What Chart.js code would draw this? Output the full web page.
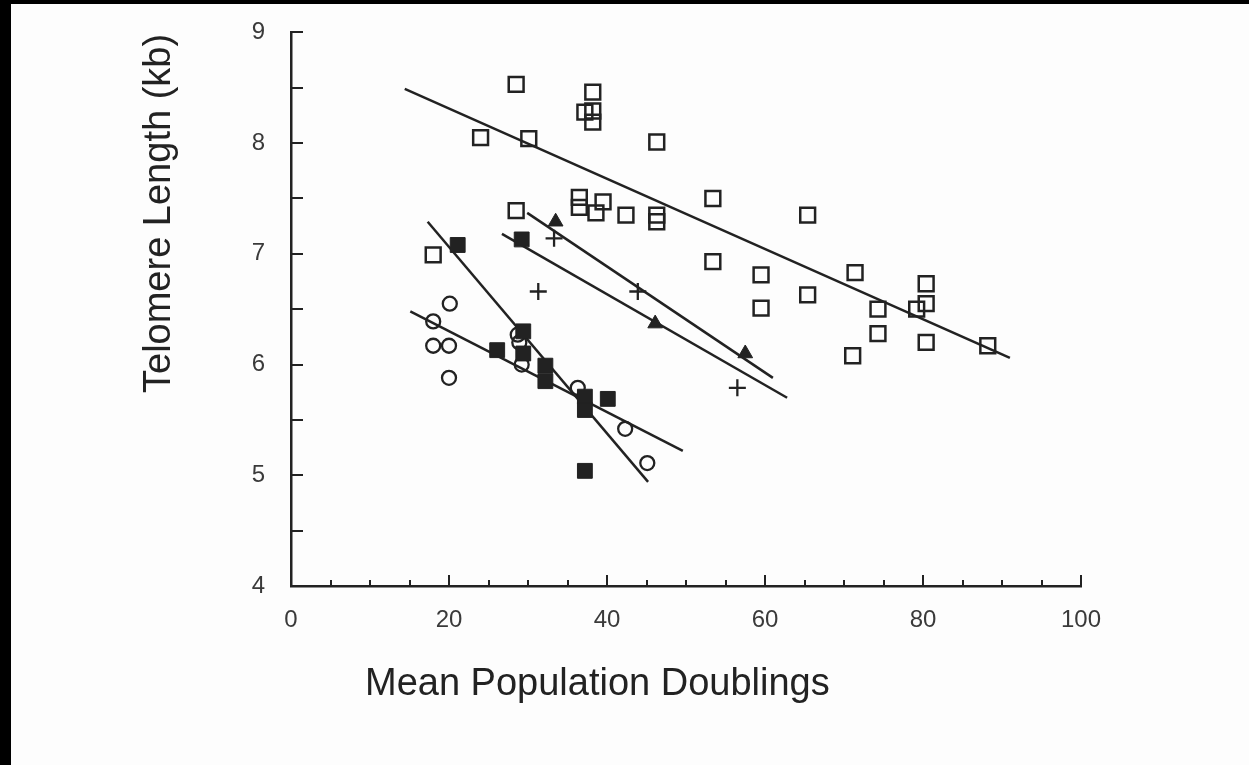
<!DOCTYPE html>
<html>
<head>
<meta charset="utf-8">
<script src="https://cdn.jsdelivr.net/npm/chart.js@4.4.1/dist/chart.umd.min.js"></script>
<style>
  html, body { margin: 0; padding: 0; background: #000; overflow: hidden; }
  .sheet { position: absolute; left: 11px; top: 4px; right: 0; bottom: 0; background: #fdfdfd; }
  .wrap { position: absolute; left: 0; top: 0; width: 1249px; height: 765px; }
</style>
</head>
<body>
<div class="sheet"></div>
<div class="wrap"><canvas id="telomereChart" width="1249" height="765"></canvas></div>
<script>
const ink = '#222222';
const tickInk = '#3a3a3a';

// open squares
const openSqX = [24.0, 28.5, 30.1, 28.5, 18.0, 38.2, 37.2, 38.2, 38.2, 46.3, 36.5, 36.5, 38.6, 39.5, 42.4, 46.3, 46.3,
                 53.4, 65.4, 53.4, 59.5, 59.5, 65.4, 71.4, 74.3, 74.3, 71.1, 79.2, 80.4, 80.4, 80.4, 88.2];
const openSqY = [8.05, 8.53, 8.04, 7.39, 6.99, 8.46, 8.28, 8.29, 8.19, 8.01, 7.51, 7.42, 7.37, 7.47, 7.35, 7.35, 7.29,
                 7.50, 7.35, 6.93, 6.81, 6.51, 6.63, 6.83, 6.50, 6.28, 6.08, 6.50, 6.73, 6.55, 6.20, 6.17];
// filled squares
const filledSqX = [21.1, 29.2, 26.1, 29.4, 29.4, 32.2, 32.2, 37.2, 37.2, 40.1, 37.2];
const filledSqY = [7.08, 7.13, 6.13, 6.30, 6.10, 5.99, 5.85, 5.71, 5.59, 5.69, 5.04];
// open circles
const circleX = [20.1, 18.0, 18.0, 20.0, 20.0, 28.7, 28.9, 29.2, 36.3, 42.3, 45.1];
const circleY = [6.55, 6.39, 6.17, 6.17, 5.88, 6.27, 6.20, 6.00, 5.79, 5.42, 5.11];
// crosses and filled triangles
const plusX = [33.3, 31.3, 43.9, 56.5];
const plusY = [7.14, 6.66, 6.66, 5.79];
const triX = [33.5, 46.1, 57.5];
const triY = [7.29, 6.37, 6.10];

// regression lines (start, end)
const fitOpenSqX = [14.4, 91.0], fitOpenSqY = [8.49, 6.06];
const fitPlusX = [29.9, 61.0], fitPlusY = [7.37, 5.88];
const fitTriX = [26.7, 62.8], fitTriY = [7.18, 5.70];
const fitFilledSqX = [17.3, 45.2], fitFilledSqY = [7.29, 4.94];
const fitCircleX = [15.1, 49.6], fitCircleY = [6.48, 5.22];

const xTickLabels = [0, 20, 40, 60, 80, 100];
const yTickLabels = [4, 5, 6, 7, 8, 9];
const xTitle = 'Mean Population Doublings';
const yTitle = 'Telomere Length (kb)';

const pts = (xs, ys) => xs.map((x, i) => ({ x: x, y: ys[i] }));

function fitLine(xs, ys) {
    return { type: 'line', data: pts(xs, ys), borderColor: ink, borderWidth: 2.5, pointRadius: 0, fill: false, tension: 0 };
}

// tick marks point into the plot, so draw them ourselves from the scales
const innerTicks = {
    id: 'innerTicks',
    afterDraw(chart) {
        const ctx = chart.ctx;
        const xs = chart.scales.x, ys = chart.scales.y;
        const area = chart.chartArea;
        ctx.save();
        ctx.strokeStyle = ink;
        ctx.lineWidth = 2;
        ctx.beginPath();
        xs.ticks.forEach(t => {
            if (t.value === 0) return;
            const px = Math.round(xs.getPixelForValue(t.value));
            const len = t.value % 20 === 0 ? 11 : 6;
            ctx.moveTo(px, area.bottom);
            ctx.lineTo(px, area.bottom - len);
        });
        ys.ticks.forEach(t => {
            if (t.value === 4) return;
            const py = Math.round(ys.getPixelForValue(t.value));
            ctx.moveTo(area.left, py);
            ctx.lineTo(area.left + 12, py);
        });
        ctx.stroke();
        ctx.restore();
    }
};

// axis titles sit off-centre in the original, place them by hand
const axisTitles = {
    id: 'axisTitles',
    afterDraw(chart) {
        const ctx = chart.ctx;
        ctx.save();
        ctx.fillStyle = ink;
        ctx.font = '38px "Liberation Sans", Arial, sans-serif';
        ctx.textAlign = 'left';
        ctx.textBaseline = 'alphabetic';
        ctx.fillText(xTitle, 365, 695);
        ctx.translate(170, 393);
        ctx.rotate(-Math.PI / 2);
        ctx.fillText(yTitle, 0, 0);
        ctx.restore();
    }
};

const ctxTelo = document.getElementById('telomereChart').getContext('2d');
new Chart(ctxTelo, {
    type: 'scatter',
    data: {
        datasets: [
            { data: pts(openSqX, openSqY), pointStyle: 'rect', pointRadius: 10.5, borderWidth: 2.5, borderColor: ink, backgroundColor: 'rgba(0,0,0,0)' },
            { data: pts(filledSqX, filledSqY), pointStyle: 'rect', pointRadius: 10.5, borderWidth: 1, borderColor: ink, backgroundColor: ink },
            { data: pts(circleX, circleY), pointStyle: 'circle', pointRadius: 7, borderWidth: 2.3, borderColor: ink, backgroundColor: 'rgba(0,0,0,0)' },
            { data: pts(plusX, plusY), pointStyle: 'cross', pointRadius: 8.5, borderWidth: 2.3, borderColor: ink },
            { data: pts(triX, triY), pointStyle: 'triangle', pointRadius: 8.5, borderWidth: 1, borderColor: ink, backgroundColor: ink },
            fitLine(fitOpenSqX, fitOpenSqY),
            fitLine(fitPlusX, fitPlusY),
            fitLine(fitTriX, fitTriY),
            fitLine(fitFilledSqX, fitFilledSqY),
            fitLine(fitCircleX, fitCircleY)
        ]
    },
    options: {
        responsive: false,
        devicePixelRatio: 1,
        animation: false,
        layout: { padding: { left: 0, top: 24, right: 168, bottom: 0 } },
        plugins: { legend: { display: false }, tooltip: { enabled: false } },
        scales: {
            x: {
                type: 'linear', min: 0, max: 100,
                grid: { display: false },
                border: { display: true, color: ink, width: 2.5 },
                ticks: {
                    stepSize: 5, autoSkip: false, maxRotation: 0, padding: 12,
                    color: tickInk, font: { family: '"Liberation Sans", Arial, sans-serif', size: 24 },
                    callback: v => xTickLabels.includes(v) ? String(v) : ''
                },
                afterFit: s => { s.height = 179; }
            },
            y: {
                type: 'linear', min: 4, max: 9,
                grid: { display: false },
                border: { display: true, color: ink, width: 2.5 },
                ticks: {
                    stepSize: 0.5, autoSkip: false, padding: 18,
                    color: tickInk, font: { family: '"Liberation Sans", Arial, sans-serif', size: 24 },
                    callback: v => yTickLabels.includes(v) ? String(v) : ''
                },
                afterFit: s => { s.width = 291; }
            }
        }
    },
    plugins: [innerTicks, axisTitles]
});
</script>
</body>
</html>
